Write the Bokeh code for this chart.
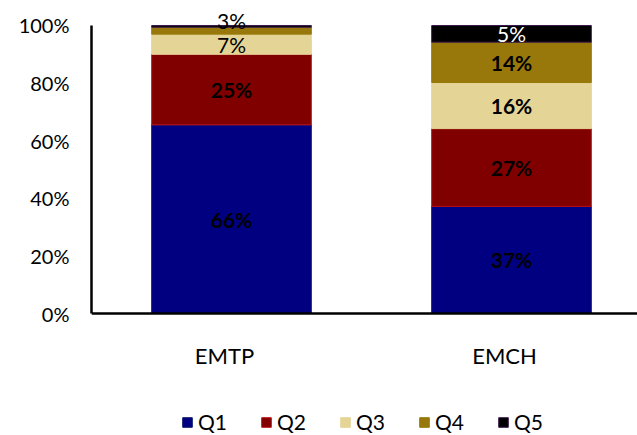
from bokeh.plotting import figure
from bokeh.models import (ColumnDataSource, FactorRange, Range1d, Legend, LegendItem,
                          FixedTicker, CustomJSTickFormatter)
from bokeh.transform import dodge
from bokeh.embed import file_html
from bokeh.resources import INLINE

categories = ["EMTP", "EMCH"]
series = ["Q1", "Q2", "Q3", "Q4", "Q5"]
q1 = [65.5, 37.2]
q2 = [24.5, 27.0]
q3 = [7.0, 16.0]
q4 = [2.4, 14.0]
q5 = [0.6, 5.8]
labels_emtp = ["66%", "25%", "7%", "3%", ""]
labels_emch = ["37%", "27%", "16%", "14%", "5%"]
y_ticks = [0, 20, 40, 60, 80, 100]

colors = ["#000080", "#800000", "#E4D496", "#98780A", "#000000"]
edge_colors = ["#0a1a6a", "#c01010", "#E4D496", "#98780A", "#3a1a4a"]

FONT = "Lato"

src = ColumnDataSource(dict(cat=categories, Q1=q1, Q2=q2, Q3=q3, Q4=q4, Q5=q5))

xr = FactorRange(*categories, range_padding=-0.025, range_padding_units="absolute")
p = figure(width=637, height=435, x_range=xr,
           y_range=Range1d(-42.36, 105.9), output_backend="svg", toolbar_location=None,
           min_border_left=91, min_border_right=0, min_border_top=8, min_border_bottom=0)
p.outline_line_color = None
p.grid.grid_line_color = None
p.background_fill_color = "white"

xpos = dodge("cat", 0.025, range=xr)
renderers = p.vbar_stack(series, x=xpos, width=0.57, color=colors, line_color=edge_colors,
                         line_width=1, source=src)

# labels at segment midpoints
vals = [q1, q2, q3, q4, q5]
lx, ly, lt, lc, lw, lo = [], [], [], [], [], []
for ci, cat in enumerate(categories):
    base = 0.0
    labs = labels_emtp if ci == 0 else labels_emch
    for si in range(len(series)):
        v = vals[si][ci]
        mid = base + v / 2
        base += v
        t = labs[si]
        if not t:
            continue
        lx.append(cat)
        ly.append(mid)
        lt.append(t)
        small = t in ("3%", "5%", "7%")
        lw.append("normal" if small else "bold")
        lc.append("white" if t == "5%" else "black")
        lo.append(-10 if (ci == 0 and si == 3) else 0)
lsrc = ColumnDataSource(dict(x=lx, y=ly, t=lt, c=lc, w=lw, o=lo))
p.text(x=dodge("x", 0.025, range=xr), y="y", text="t", source=lsrc, text_align="center",
       text_baseline="middle", text_color="c", text_font_style="w", y_offset="o",
       text_font_size="21px", text_font=dict(value=FONT))

ya = p.yaxis[0]
ya.ticker = FixedTicker(ticks=y_ticks)
ya.formatter = CustomJSTickFormatter(code="return tick + '%';")
ya.bounds = (0, 100)
ya.axis_line_width = 2.5
ya.axis_line_color = "black"
ya.major_tick_line_color = None
ya.minor_tick_line_color = None
ya.major_tick_out = 0
ya.major_tick_in = 0
ya.major_label_standoff = 22
ya.major_label_text_font_size = "20px"
ya.major_label_text_font = FONT
ya.major_label_text_color = "black"

xa = p.xaxis[0]
xa.fixed_location = 0
xa.axis_line_width = 2.5
xa.axis_line_color = "black"
xa.major_tick_line_color = None
xa.minor_tick_line_color = None
xa.major_tick_out = 0
xa.major_tick_in = 0
xa.major_label_standoff = 28
xa.major_label_text_font_size = "22px"
xa.major_label_text_font = FONT
xa.major_label_text_color = "black"

items = [LegendItem(label=s, renderers=[r]) for s, r in zip(series, renderers)]
legend = Legend(items=items, orientation="horizontal", location=(90, 1),
                glyph_width=12, glyph_height=12, spacing=33, padding=0, margin=0,
                label_text_font_size="21px", label_text_font=FONT, label_standoff=5,
                label_text_color="black",
                label_height=20, border_line_color=None, background_fill_alpha=0)
p.add_layout(legend, "center")

open("out.html", "w").write(file_html(p, INLINE))
